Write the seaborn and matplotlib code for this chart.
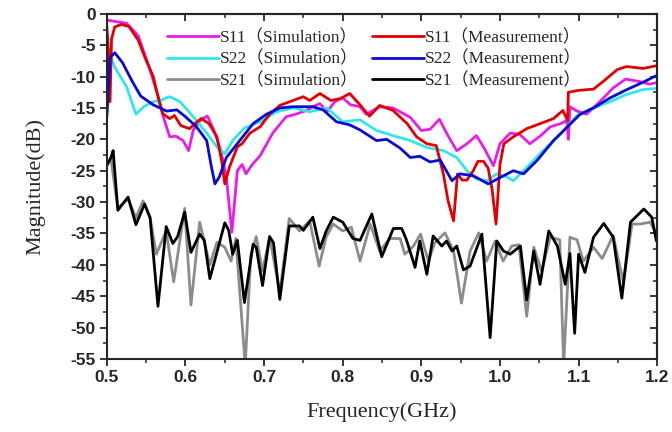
import matplotlib
matplotlib.use('Agg')

import matplotlib.pyplot as plt
import seaborn as sns
import pandas as pd

# S11 simulation (magenta)
s11_sim_f = [0.500, 0.525, 0.540, 0.554, 0.565, 0.572, 0.580, 0.588, 0.597, 0.604,
             0.610, 0.620, 0.628, 0.636, 0.645, 0.652, 0.659, 0.666, 0.672, 0.677,
             0.685, 0.695, 0.711, 0.728, 0.740, 0.754, 0.762, 0.771, 0.780, 0.790,
             0.800, 0.810, 0.822, 0.830, 0.847, 0.864, 0.886, 0.900, 0.911, 0.923,
             0.932, 0.945, 0.958, 0.970, 0.979, 0.9917, 1.000, 1.013, 1.025, 1.038,
             1.051, 1.064, 1.077, 1.085, 1.087, 1.089, 1.098, 1.110, 1.127, 1.144,
             1.160, 1.178, 1.190, 1.198]
s11_sim_db = [-1.0, -1.5, -3.5, -8.6, -13.0, -16.5, -19.6, -19.5, -20.2, -21.8,
              -18.5, -16.8, -16.3, -18.5, -21.8, -26.0, -34.8, -25.0, -24.0, -25.5,
              -24.0, -22.6, -19.0, -16.4, -16.0, -15.4, -14.8, -14.3, -15.6, -14.0,
              -13.4, -14.5, -14.8, -16.0, -14.8, -15.0, -16.5, -18.6, -18.4, -16.8,
              -19.0, -21.8, -20.7, -19.4, -21.2, -24.2, -20.7, -19.0, -19.2, -20.7,
              -19.5, -18.0, -17.5, -17.0, -20.0, -14.8, -15.5, -16.0, -14.0, -11.8,
              -10.4, -10.8, -11.2, -11.0]

# S11 measurement (red)
s11_meas_f = [0.500, 0.502, 0.504, 0.506, 0.510, 0.518, 0.528, 0.540, 0.548, 0.559,
              0.565, 0.571, 0.580, 0.586, 0.594, 0.605, 0.612, 0.620, 0.630, 0.640,
              0.646, 0.650, 0.656, 0.666, 0.672, 0.682, 0.695, 0.707, 0.720, 0.737,
              0.750, 0.758, 0.771, 0.785, 0.797, 0.809, 0.822, 0.834, 0.847, 0.864,
              0.882, 0.894, 0.907, 0.919, 0.928, 0.934, 0.941, 0.946, 0.952, 0.958,
              0.966, 0.972, 0.979, 0.985, 0.990, 0.995, 1.000, 1.005, 1.017, 1.034,
              1.051, 1.068, 1.080, 1.086, 1.087, 1.100, 1.119, 1.132, 1.149, 1.161,
              1.182, 1.198]
s11_meas_db = [-2.0, -6.0, -14.0, -4.0, -2.1, -1.7, -2.0, -4.2, -6.8, -10.0,
               -13.2, -15.9, -16.7, -16.2, -17.8, -18.3, -17.5, -16.7, -17.5, -19.6,
               -23.4, -27.1, -24.4, -21.2, -20.7, -19.0, -18.0, -16.0, -14.6, -13.8,
               -13.2, -13.8, -12.7, -13.8, -13.5, -12.7, -14.5, -16.3, -14.6, -15.4,
               -17.5, -19.6, -20.7, -21.0, -25.5, -29.8, -33.0, -25.5, -26.5, -26.5,
               -25.0, -23.5, -23.5, -24.6, -28.0, -33.5, -24.0, -20.7, -19.6, -18.3,
               -17.5, -16.7, -15.4, -17.0, -12.5, -12.2, -12.0, -10.7, -8.9, -8.4,
               -8.7, -8.3]

# S22 simulation (cyan)
s22_sim_f = [0.500, 0.503, 0.510, 0.525, 0.537, 0.547, 0.559, 0.568, 0.580, 0.593,
             0.610, 0.627, 0.640, 0.650, 0.660, 0.675, 0.695, 0.716, 0.737, 0.758,
             0.780, 0.800, 0.822, 0.843, 0.864, 0.886, 0.907, 0.928, 0.945, 0.958,
             0.970, 0.983, 0.996, 1.009, 1.017, 1.034, 1.055, 1.077, 1.098, 1.119,
             1.140, 1.160, 1.181, 1.198]
s22_sim_db = [-5.2, -6.0, -8.5, -11.6, -16.0, -14.8, -14.0, -13.8, -13.2, -14.0,
              -16.4, -19.0, -21.2, -22.3, -20.2, -18.2, -17.2, -15.6, -15.0, -15.6,
              -15.0, -17.2, -16.9, -18.6, -19.4, -20.2, -21.3, -21.8, -22.9, -25.0,
              -26.3, -26.6, -25.5, -26.0, -26.6, -24.5, -21.8, -19.2, -16.2, -15.0,
              -14.0, -12.9, -12.1, -11.9]

# S22 measurement (blue)
s22_meas_f = [0.500, 0.502, 0.504, 0.510, 0.520, 0.532, 0.543, 0.559, 0.576, 0.589,
              0.600, 0.614, 0.627, 0.633, 0.6375, 0.643, 0.652, 0.669, 0.686, 0.703,
              0.720, 0.737, 0.762, 0.775, 0.792, 0.809, 0.822, 0.843, 0.856, 0.873,
              0.886, 0.898, 0.911, 0.924, 0.939, 0.949, 0.966, 0.985, 1.000, 1.017,
              1.030, 1.047, 1.068, 1.085, 1.102, 1.119, 1.140, 1.161, 1.182, 1.198]
s22_meas_db = [-16.5, -12.0, -7.0, -6.2, -7.8, -10.7, -13.1, -14.5, -15.5, -15.3,
               -16.4, -18.0, -20.2, -24.4, -27.1, -26.0, -22.9, -20.2, -17.5, -16.0,
               -15.0, -14.8, -14.8, -15.3, -17.2, -17.7, -18.5, -20.2, -20.0, -21.4,
               -22.9, -22.7, -23.6, -23.3, -26.6, -25.5, -25.8, -27.1, -26.1, -25.0,
               -25.5, -23.4, -20.2, -18.1, -16.0, -15.0, -13.4, -12.1, -10.9, -9.9]

# S21 simulation (grey)
s21_sim_f = [0.505, 0.514, 0.527, 0.537, 0.546, 0.555, 0.563, 0.5755, 0.585, 0.599,
             0.607, 0.618, 0.631, 0.640, 0.650, 0.658, 0.664, 0.676, 0.683, 0.690,
             0.698, 0.707, 0.720, 0.732, 0.745, 0.758, 0.770, 0.779, 0.788, 0.800,
             0.811, 0.822, 0.835, 0.847, 0.860, 0.873, 0.879, 0.890, 0.899, 0.909,
             0.917, 0.930, 0.941, 0.951, 0.962, 0.973, 0.983, 0.994, 1.004, 1.015,
             1.024, 1.034, 1.043, 1.053, 1.064, 1.076, 1.081, 1.089, 1.098, 1.106,
             1.119, 1.130, 1.144, 1.157, 1.168, 1.178, 1.191, 1.199]
s21_sim_db = [-23.0, -31.0, -29.5, -32.5, -29.8, -32.5, -38.3, -34.6, -42.7, -31.0,
              -46.4, -33.2, -40.0, -36.4, -37.2, -39.4, -35.8, -56.0, -38.5, -35.5,
              -41.0, -35.5, -44.5, -32.6, -34.6, -33.0, -40.2, -35.5, -33.5, -34.6,
              -34.0, -39.4, -33.5, -37.8, -35.8, -35.8, -38.3, -37.0, -35.1, -39.4,
              -36.5, -34.9, -37.8, -46.1, -37.8, -34.9, -39.4, -36.2, -39.4, -37.0,
              -36.8, -48.2, -37.2, -41.0, -35.6, -36.0, -56.0, -35.6, -36.0, -39.4,
              -37.2, -39.0, -35.3, -42.8, -33.5, -33.5, -33.2, -35.0]

# S21 measurement (black)
s21_meas_f = [0.500, 0.5055, 0.508, 0.514, 0.520, 0.527, 0.537, 0.548, 0.555, 0.565,
              0.5755, 0.584, 0.590, 0.599, 0.607, 0.618, 0.624, 0.631, 0.640, 0.650,
              0.655, 0.660, 0.666, 0.675, 0.686, 0.690, 0.698, 0.707, 0.712, 0.720,
              0.732, 0.745, 0.750, 0.762, 0.771, 0.779, 0.788, 0.800, 0.813, 0.822,
              0.837, 0.8496, 0.8644, 0.875, 0.881, 0.892, 0.898, 0.907, 0.915, 0.926,
              0.932, 0.939, 0.945, 0.9535, 0.962, 0.977, 0.9875, 0.996, 1.0045, 1.013,
              1.026, 1.034, 1.043, 1.051, 1.062, 1.073, 1.083, 1.089, 1.095, 1.100,
              1.108, 1.119, 1.132, 1.144, 1.155, 1.166, 1.183, 1.193, 1.199]
s21_meas_db = [-24.2, -22.8, -21.8, -31.3, -30.3, -29.2, -33.6, -30.3, -32.5, -46.6,
               -33.9, -36.6, -35.5, -31.6, -38.0, -35.1, -36.1, -42.2, -38.0, -33.3,
               -34.5, -38.3, -36.1, -46.0, -36.7, -37.2, -43.3, -35.5, -36.5, -45.5,
               -33.8, -33.8, -34.5, -32.4, -37.4, -34.6, -32.4, -33.2, -35.8, -36.1,
               -31.9, -38.7, -34.2, -34.2, -36.0, -40.4, -36.2, -41.5, -35.4, -37.0,
               -36.2, -37.8, -37.0, -40.8, -40.2, -35.1, -51.6, -36.2, -37.8, -38.3,
               -37.0, -45.6, -37.8, -43.1, -34.6, -37.0, -43.1, -38.2, -50.9, -38.3,
               -41.2, -35.6, -33.4, -35.6, -45.3, -33.2, -31.1, -32.4, -36.2]

trace_names = ["S11（Simulation）", "S22（Simulation）", "S21（Simulation）",
               "S11（Measurement）", "S22（Measurement）", "S21（Measurement）"]
trace_colors = ["#e81ee8", "#33e6e6", "#8c8c8c", "#e00000", "#0a0ad2", "#000000"]

x_ticks = [0.5, 0.6, 0.7, 0.8, 0.9, 1.0, 1.1, 1.2]
x_tick_labels = ["0.5", "0.6", "0.7", "0.8", "0.9", "1.0", "1.1", "1.2"]
y_ticks = [0, -5, -10, -15, -20, -25, -30, -35, -40, -45, -50, -55]
y_tick_labels = ["0", "-5", "-10", "-15", "-20", "-25", "-30", "-35", "-40", "-45", "-50", "-55"]

# long-form table for seaborn
series = [(s11_sim_f, s11_sim_db), (s22_sim_f, s22_sim_db), (s21_sim_f, s21_sim_db),
          (s11_meas_f, s11_meas_db), (s22_meas_f, s22_meas_db), (s21_meas_f, s21_meas_db)]
frames = []
for name, (f, db) in zip(trace_names, series):
    frames.append(pd.DataFrame({"freq": f, "mag": db, "trace": name}))
df = pd.concat(frames, ignore_index=True)

sns.set_style("ticks")
plt.rcParams['font.family'] = ['Liberation Serif', 'Noto Sans CJK SC', 'DejaVu Sans']

fig = plt.figure(figsize=(6.72, 4.32), dpi=100)
ax = fig.add_axes([0.159, 0.169, 0.819, 0.799])

sns.lineplot(data=df, x="freq", y="mag", hue="trace", hue_order=trace_names,
             palette=dict(zip(trace_names, trace_colors)), sort=False,
             estimator=None, linewidth=2.0, ax=ax)

ax.set_xlim(0.5, 1.2)
ax.set_ylim(-55, 0)

tick_font = {'family': 'Liberation Sans', 'weight': 'bold', 'size': 12.5}
ax.set_xticks(x_ticks, x_tick_labels, fontdict=tick_font)
ax.set_yticks(y_ticks, y_tick_labels, fontdict=tick_font)
ax.set_xticks([0.55 + 0.1 * i for i in range(7)], minor=True)
ax.set_yticks([-2.5 - 5 * i for i in range(11)], minor=True)
ax.tick_params(which='major', direction='out', length=5, width=1.3, pad=3)
ax.tick_params(which='minor', direction='out', length=3, width=1.1)

# mirrored inward ticks on top and right
top = ax.secondary_xaxis('top')
top.set_xticks(x_ticks, [""] * len(x_ticks))
top.set_xticks([0.55 + 0.1 * i for i in range(7)], minor=True)
top.tick_params(which='major', direction='in', length=5, width=1.3)
top.tick_params(which='minor', direction='in', length=3, width=1.1)
right = ax.secondary_yaxis('right')
right.set_yticks(y_ticks, [""] * len(y_ticks))
right.set_yticks([-2.5 - 5 * i for i in range(11)], minor=True)
right.tick_params(which='major', direction='in', length=5, width=1.3)
right.tick_params(which='minor', direction='in', length=3, width=1.1)
for sp in list(ax.spines.values()) + [top.spines['top'], right.spines['right']]:
    sp.set_linewidth(1.5)

ax.set_xlabel("Frequency(GHz)", family='Liberation Serif', fontsize=16, labelpad=12)
ax.set_ylabel("Magnitude(dB)", family='Liberation Serif', fontsize=16, labelpad=18)

handles, labels = ax.get_legend_handles_labels()
ax.legend(handles, labels, ncol=2, loc='upper left', bbox_to_anchor=(0.08, 1.0),
          frameon=False, handlelength=3.0, handletextpad=0.05, columnspacing=0.8,
          labelspacing=0.3, prop={'family': ['Liberation Serif', 'Noto Sans CJK SC'], 'size': 12.5})

plt.savefig("out.png", dpi=100)
